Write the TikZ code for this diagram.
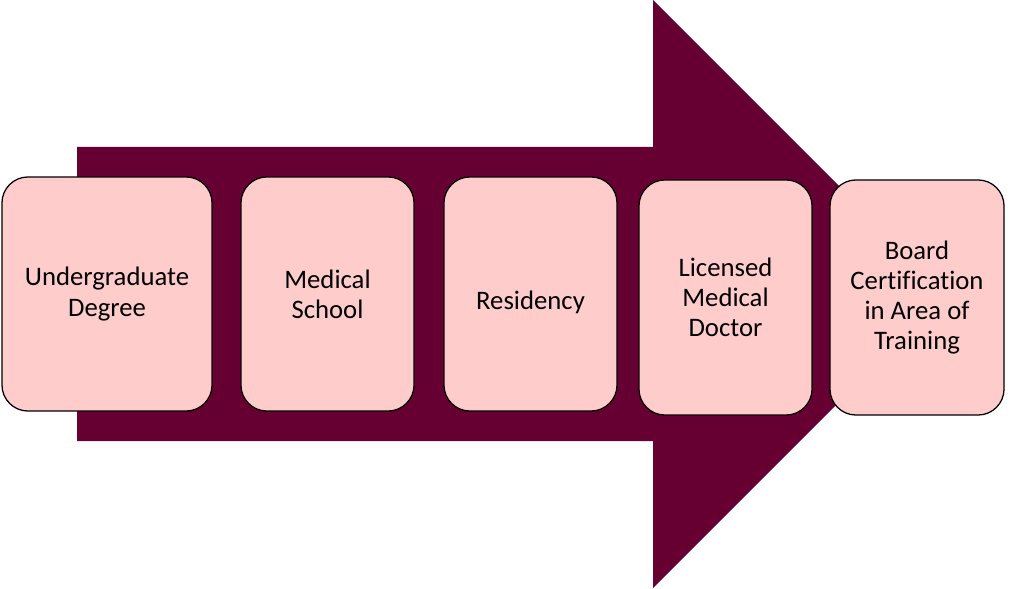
\documentclass[tikz,border=0pt]{standalone}
\usepackage{fontspec}
\setmainfont[Ligatures=NoCommon]{Carlito}
\definecolor{maroon}{HTML}{660033}
\definecolor{blush}{HTML}{FFCCCC}

\begin{document}
\begin{tikzpicture}[
  x=0.025cm,
  y=-0.025cm,
  big arrow/.style={
    fill=maroon,
    draw=none
  },
  step box/.style={
    draw=black,
    fill=blush,
    line width=0.9pt,
    rounded corners=0.65cm,
    minimum width=4.325cm,
    minimum height=5.85cm,
    align=center,
    font=\fontsize{19}{21.5}\selectfont
  }
]
\useasboundingbox (0,0) rectangle (1024,589);
% the arrow behind the steps
\fill[big arrow] (77,147) -- (653,147) -- (653,0) -- (947,294)
  -- (653,588) -- (653,441) -- (77,441) -- cycle;
\node[step box,minimum width=5.25cm] (degree) at (107,294) {Undergraduate\\Degree};
\node[step box] (school) at (327.5,294) {Medical\\School};
\node[step box,text height=22pt,text depth=0pt] (residency) at (530.5,294) {Residency};
\node[step box,minimum height=5.875cm] (doctor) at (725.5,297.5) {Licensed\\Medical\\Doctor};
\node[step box,minimum height=5.875cm,minimum width=4.35cm] (board) at (917,297.5)
  {Board\\Certification\\in Area of\\Training};
\end{tikzpicture}
\end{document}
